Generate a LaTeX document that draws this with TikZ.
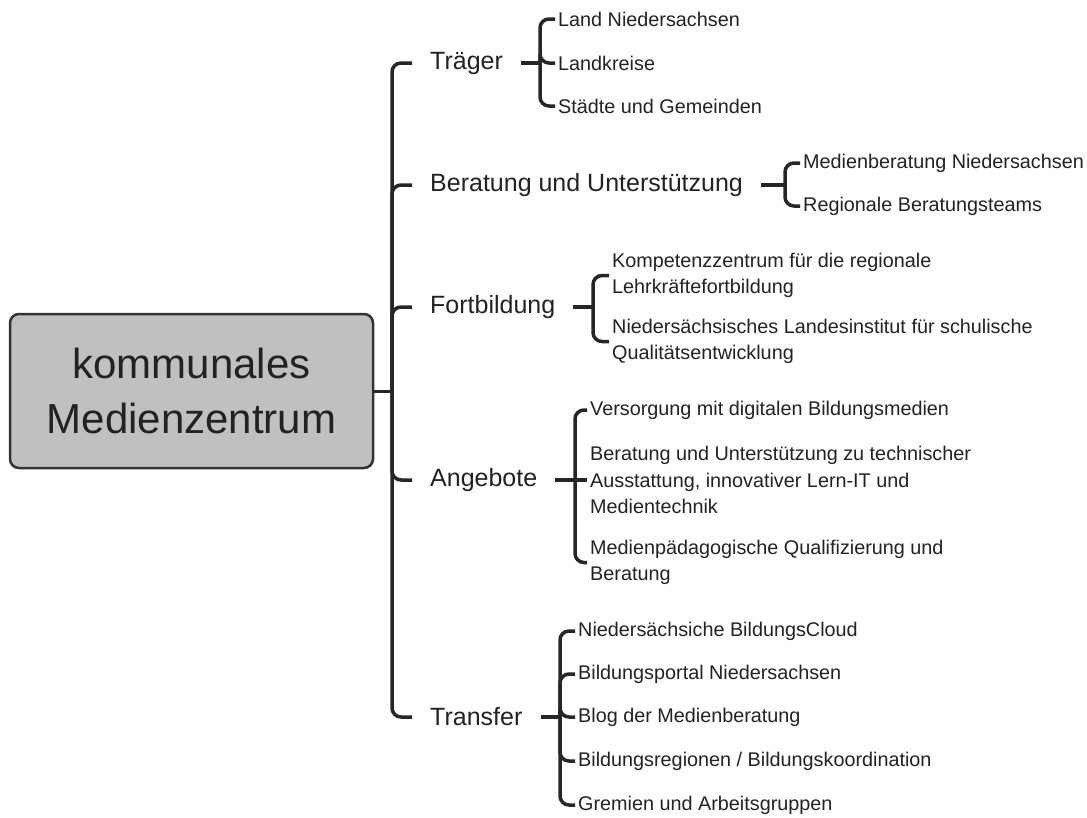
\documentclass[tikz,border=0pt]{standalone}
\usepackage{fontspec}
\setmainfont{Liberation Sans}
\usetikzlibrary{calc}
\definecolor{linec}{HTML}{262626}
\definecolor{txt}{HTML}{222222}
\definecolor{boxfill}{HTML}{C0C0C0}
\definecolor{boxline}{HTML}{333333}
\begin{document}
\begin{tikzpicture}[x=1pt,y=-1pt,
  conn/.style={line width=3.5pt, draw=linec, rounded corners=9pt},
  mainconn/.style={line width=3pt, draw=linec},
  mainbox/.style={draw=boxline, line width=2.5pt, fill=boxfill, rounded corners=9pt,
    minimum width=363pt, minimum height=154pt, align=center, text=txt,
    font=\fontsize{42}{55}\selectfont},
  topic/.style={anchor=west, inner xsep=18pt, inner ysep=2pt, text=txt,
    font=\fontsize{25}{30}\selectfont},
  leaf/.style={anchor=west, inner xsep=3pt, inner ysep=2pt, align=left, text=txt,
    font=\fontsize{19.8}{26.5}\selectfont},
]
\useasboundingbox (0,0) rectangle (1087,817);

% central node
\node[mainbox] (M) at (191.5,391) {kommunales\\Medienzentrum};
\coordinate (S) at (392,391);
\draw[mainconn] (M.east) -- (S);

% main topics
\node[topic] (T) at (412,63) {Träger};
\node[topic] (B) at (412,185) {Beratung und Unterstützung};
\node[topic] (F) at (412,307) {Fortbildung};
\node[topic] (A) at (412,480) {Angebote};
\node[topic] (R) at (412,717) {Transfer};
\foreach \n in {T,B,F,A,R} \draw[conn] (S) |- (\n.west);

% Träger
\coordinate (jT) at (540,63);
\node[leaf] (T1) at (555,19) {Land Niedersachsen};
\node[leaf] (T2) at (555,63) {Landkreise};
\node[leaf] (T3) at (555,106) {Städte und Gemeinden};
\draw[conn] (T.east) -- (jT);
\foreach \n in {T1,T2,T3} \draw[conn] (jT) |- (\n.west);

% Beratung und Unterstützung
\coordinate (jB) at (785,185);
\node[leaf] (B1) at (800,163) {Medienberatung Niedersachsen};
\node[leaf] (B2) at (800,206) {Regionale Beratungsteams};
\draw[conn] (B.east) -- (jB);
\foreach \n in {B1,B2} \draw[conn] (jB) |- (\n.west);

% Fortbildung
\coordinate (jF) at (593,307);
\node[leaf] (F1) at (609,275.5) {Kompetenzzentrum für die regionale\\Lehrkräftefortbildung};
\node[leaf] (F2) at (609,341.5) {Niedersächsisches Landesinstitut für schulische\\Qualitätsentwicklung};
\draw[conn] (F.east) -- (jF);
\foreach \n in {F1,F2} \draw[conn] (jF) |- (\n.west);

% Angebote
\coordinate (jA) at (575,480);
\node[leaf] (A1) at (587,410) {Versorgung mit digitalen Bildungsmedien};
\node[leaf, anchor=west] (A2) at (587,480) {Beratung und Unterstützung zu technischer\\Ausstattung, innovativer Lern-IT und\\Medientechnik};
\node[leaf] (A3) at (587,562.5) {Medienpädagogische Qualifizierung und\\Beratung};
\draw[conn] (A.east) -- (jA);
\draw[conn] (jA) |- (A1.west);
\draw[conn] (jA) -- (jA -| A2.west);
\draw[conn] (jA) |- (A3.west);

% Transfer
\coordinate (jR) at (560,717);
\node[leaf] (R1) at (575,631) {Niedersächsiche BildungsCloud};
\node[leaf] (R2) at (575,674) {Bildungsportal Niedersachsen};
\node[leaf] (R3) at (575,717) {Blog der Medienberatung};
\node[leaf] (R4) at (575,761) {Bildungsregionen / Bildungskoordination};
\node[leaf] (R5) at (575,805) {Gremien und Arbeitsgruppen};
\draw[conn] (R.east) -- (jR);
\foreach \n in {R1,R2,R3,R4,R5} \draw[conn] (jR) |- (\n.west);
\end{tikzpicture}
\end{document}
